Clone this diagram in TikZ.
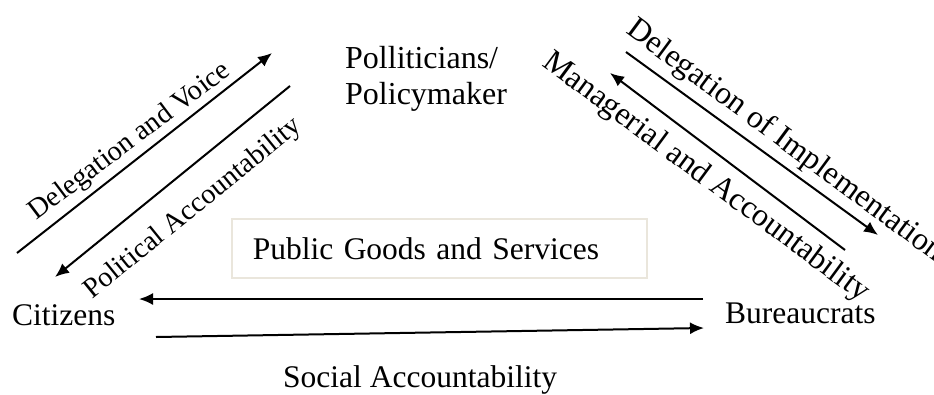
\documentclass[tikz,border=0pt]{standalone}
\usepackage{fontspec}
\setmainfont{Liberation Serif}
\usetikzlibrary{arrows.meta}
\definecolor{boxc}{RGB}{234,230,220}
\begin{document}
\begin{tikzpicture}[x=1pt,y=-1pt,
  lbl/.style={font=\fontsize{31.5}{36}\selectfont, inner sep=0pt},
  lblsmall/.style={font=\fontsize{28.4}{34}\selectfont, inner sep=0pt},
  lblbig/.style={font=\fontsize{32}{36}\selectfont, inner sep=0pt},
  conn/.style={line width=2pt, -{Latex[length=14pt,width=12pt]}}]
\useasboundingbox (0,0) rectangle (934,394);
\clip (0,0) rectangle (934,394);
% actors
\node[lblbig, anchor=north west, align=left] (pol) at (345,46) {Polliticians/\\Policymaker};
\node[lbl, anchor=base west] (cit) at (12,325) {Citizens};
\node[lbl, anchor=base west] (bur) at (725,323) {Bureaucrats};
\node[lbl, anchor=base west] (soc) at (283,387) {Social Accountability};
\node[lbl, draw=boxc, line width=1.5pt, anchor=north west, align=left,
      text width=373pt, inner xsep=21pt, minimum height=59pt] (pgs) at (231,218) {Public Goods and Services};
% rotated labels
\node[lblsmall, anchor=base, rotate=37] (dvl) at (134,147.5) {Delegation and Voice};
\node[lblsmall, anchor=base, rotate=39] (pal) at (197.5,214) {Political Accountability};
\node[lblbig, anchor=base, rotate=-36.5] (dil) at (780,147.5) {Delegation of Implementation};
\node[lblbig, anchor=base, rotate=-36.5] (mal) at (701,184) {Managerial and Accountability};
% connector ends
\coordinate (dv1) at (17,253); \coordinate (dv2) at (272,53);
\coordinate (pa1) at (290,86); \coordinate (pa2) at (55,277);
\coordinate (di1) at (626,52); \coordinate (di2) at (878,235);
\coordinate (ma1) at (845,250); \coordinate (ma2) at (610,73);
\coordinate (bc1) at (703,299); \coordinate (bc2) at (139,299);
\coordinate (cb1) at (156,337); \coordinate (cb2) at (704,328);
\draw[conn] (dv1) -- (dv2);
\draw[conn] (pa1) -- (pa2);
\draw[conn] (di1) -- (di2);
\draw[conn] (ma1) -- (ma2);
\draw[conn] (bc1) -- (bc2);
\draw[conn] (cb1) -- (cb2);
\end{tikzpicture}
\end{document}
